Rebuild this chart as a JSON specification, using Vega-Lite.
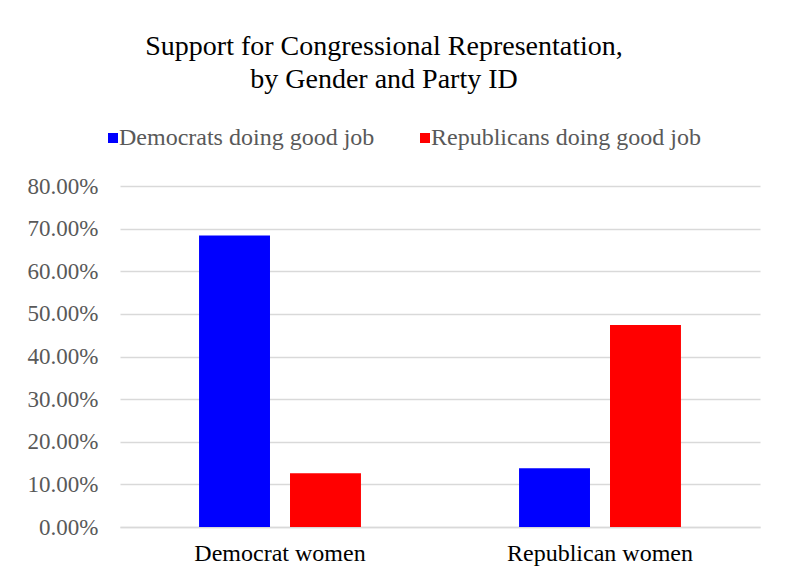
{
  "$schema": "https://vega.github.io/schema/vega-lite/v6.json",
  "width": 640,
  "height": 341,
  "autosize": {"type": "none"},
  "padding": {"left": 120, "top": 186, "right": 29, "bottom": 54},
  "background": "white",
  "title": {
    "text": ["Support for Congressional Representation,", "by Gender and Party ID"],
    "font": "Liberation Serif",
    "fontSize": 28,
    "fontWeight": "normal",
    "color": "#000000",
    "anchor": "middle",
    "frame": "group",
    "dx": -56,
    "offset": 32,
    "lineHeight": 33
  },
  "data": {
    "values": [
      {"group": "Democrat women", "series": "Democrats doing good job", "value": 0.684},
      {"group": "Democrat women", "series": "Republicans doing good job", "value": 0.126},
      {"group": "Republican women", "series": "Democrats doing good job", "value": 0.138},
      {"group": "Republican women", "series": "Republicans doing good job", "value": 0.474}
    ]
  },
  "mark": {"type": "bar"},
  "encoding": {
    "x": {
      "field": "group",
      "type": "nominal",
      "sort": ["Democrat women", "Republican women"],
      "scale": {"paddingInner": 0.494, "paddingOuter": 0.247},
      "axis": {
        "title": null,
        "labelAngle": 0,
        "labelFont": "Liberation Serif",
        "labelFontSize": 24,
        "labelColor": "#000000",
        "labelPadding": 14,
        "labelLimit": 0,
        "ticks": false,
        "domainColor": "#d9d9d9",
        "domainWidth": 1.5
      }
    },
    "xOffset": {
      "field": "series",
      "type": "nominal",
      "sort": ["Democrats doing good job", "Republicans doing good job"],
      "scale": {"paddingInner": 0.22, "paddingOuter": 0}
    },
    "y": {
      "field": "value",
      "type": "quantitative",
      "scale": {"domain": [0, 0.8], "nice": false},
      "axis": {
        "title": null,
        "format": ".2%",
        "values": [0, 0.1, 0.2, 0.3, 0.4, 0.5, 0.6, 0.7, 0.8],
        "labelFont": "Liberation Serif",
        "labelFontSize": 23,
        "labelColor": "#595959",
        "labelPadding": 22,
        "labelLimit": 0,
        "ticks": false,
        "domain": false,
        "gridColor": "#d9d9d9",
        "gridWidth": 1.5
      }
    },
    "color": {
      "field": "series",
      "type": "nominal",
      "sort": ["Democrats doing good job", "Republicans doing good job"],
      "scale": {"range": ["#0000ff", "#ff0000"]},
      "legend": {
        "title": null,
        "orient": "none",
        "direction": "horizontal",
        "legendX": -19,
        "legendY": -60,
        "symbolType": "square",
        "symbolSize": 100,
        "symbolOpacity": 1,
        "labelFont": "Liberation Serif",
        "labelFontSize": 24,
        "labelColor": "#595959",
        "labelOffset": -6,
        "labelLimit": 0,
        "columnPadding": 38
      }
    }
  },
  "config": {"view": {"stroke": null}}
}
